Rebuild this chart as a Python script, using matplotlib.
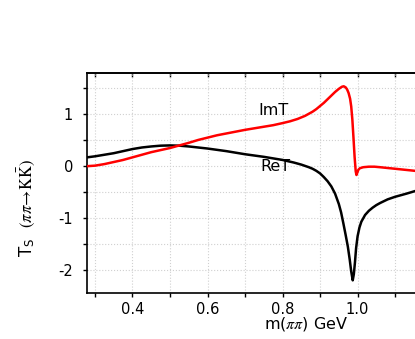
import matplotlib
matplotlib.use("Agg")
import matplotlib.pyplot as plt

plt.rcParams["font.family"] = ["DejaVu Sans"]
plt.rcParams["mathtext.fontset"] = "stix"
plt.rcParams["axes.unicode_minus"] = False

# ImT (red)
x_im = [0.279, 0.30, 0.325, 0.35, 0.375, 0.40, 0.425, 0.45, 0.475, 0.50, 0.525,
        0.55, 0.575, 0.60, 0.625, 0.65, 0.675, 0.70, 0.725, 0.75, 0.775, 0.80,
        0.82, 0.84, 0.86, 0.88, 0.89, 0.90, 0.91, 0.92, 0.93, 0.94, 0.95, 0.958,
        0.963, 0.968, 0.972, 0.976, 0.980, 0.983, 0.986, 0.989, 0.992, 0.995,
        0.997, 0.999, 1.002, 1.006, 1.015, 1.03, 1.045, 1.06, 1.08, 1.10, 1.12,
        1.14, 1.153]
y_im = [0.00, 0.01, 0.04, 0.08, 0.12, 0.17, 0.22, 0.27, 0.31, 0.35, 0.40,
        0.45, 0.505, 0.55, 0.595, 0.63, 0.665, 0.70, 0.73, 0.76, 0.79, 0.83,
        0.865, 0.91, 0.97, 1.05, 1.10, 1.16, 1.22, 1.29, 1.36, 1.43, 1.49, 1.53,
        1.54, 1.52, 1.48, 1.41, 1.30, 1.15, 0.90, 0.55, 0.18, -0.10,
        -0.17, -0.13, -0.07, -0.04, -0.02, -0.01, -0.01, -0.02, -0.035, -0.05, -0.065,
        -0.08, -0.09]

# ReT (black)
x_re = [0.279, 0.30, 0.325, 0.35, 0.375, 0.40, 0.425, 0.45, 0.475, 0.50, 0.525,
        0.55, 0.575, 0.60, 0.65, 0.70, 0.75, 0.80, 0.83, 0.85, 0.87, 0.88, 0.89,
        0.90, 0.91, 0.92, 0.93, 0.94, 0.95, 0.956, 0.962, 0.968, 0.974, 0.979,
        0.983, 0.987, 0.990, 0.993, 0.996, 1.000, 1.005, 1.01, 1.02, 1.03, 1.04,
        1.05, 1.06, 1.08, 1.10, 1.13, 1.153]
y_re = [0.17, 0.19, 0.22, 0.25, 0.29, 0.33, 0.36, 0.38, 0.395, 0.40, 0.395,
        0.38, 0.36, 0.34, 0.29, 0.23, 0.18, 0.12, 0.07, 0.03, -0.02, -0.05, -0.09,
        -0.14, -0.21, -0.29, -0.39, -0.53, -0.73, -0.89, -1.10, -1.32, -1.55, -1.80,
        -2.03, -2.20, -2.08, -1.85, -1.58, -1.35, -1.18, -1.07, -0.94, -0.86, -0.80,
        -0.75, -0.71, -0.64, -0.59, -0.53, -0.48]

x_major = [0.4, 0.6, 0.8, 1.0]
x_minor = [0.3, 0.5, 0.7, 0.9, 1.1]
x_labels = ["0.4", "0.6", "0.8", "1.0"]
y_major = [-2, -1, 0, 1]
y_minor = [-1.5, -0.5, 0.5, 1.5]
y_labels = ["-2", "-1", "0", "1"]

fig = plt.figure(figsize=(4.15, 3.39), dpi=100)
ax = fig.add_axes([0.2096, 0.1348, 0.7904, 0.649])

ax.plot(x_re, y_re, color="black", lw=1.8, zorder=3)
ax.plot(x_im, y_im, color="#ff0000", lw=1.8, zorder=4)

ax.text(0.775, 1.08, "ImT", fontsize=11.5, ha="center", va="center")
ax.text(0.78, 0.0, "ReT", fontsize=11.5, ha="center", va="center")

ax.set_xlim(0.2787, 1.153)
ax.set_ylim(-2.45, 1.79)

ax.set_xticks(x_major)
ax.set_xticklabels(x_labels)
ax.set_xticks(x_minor, minor=True)
ax.set_yticks(y_major)
ax.set_yticklabels(y_labels)
ax.set_yticks(y_minor, minor=True)

ax.grid(which="both", color="#d0d0d0", linestyle=":", linewidth=0.8)
ax.set_axisbelow(True)

ax.tick_params(axis="x", which="both", direction="out", length=3, width=1,
               labelsize=10.5, pad=3, top=False)
ax.tick_params(axis="y", which="both", direction="out", length=3, width=1,
               labelsize=10.5, pad=7)

top = ax.secondary_xaxis("top")
top.set_xticks(x_major + x_minor)
top.set_xticklabels([])
top.tick_params(direction="in", length=3, width=1)
top.spines["top"].set_linewidth(1.2)

for side in ("left", "bottom", "top"):
    ax.spines[side].set_linewidth(1.2)
ax.spines["right"].set_visible(False)

ax.set_xlabel(r"m($\pi\pi$) GeV", fontsize=11.5)
ax.xaxis.set_label_coords(0.668, -0.10)

ax.set_ylabel(r"T$_\mathregular{S}$  $(\pi\pi\!\rightarrow\!\mathrm{K\bar{K}})$", fontsize=12)
ax.yaxis.set_label_coords(-0.152, 0.388)

fig.savefig("out.png", dpi=100)
